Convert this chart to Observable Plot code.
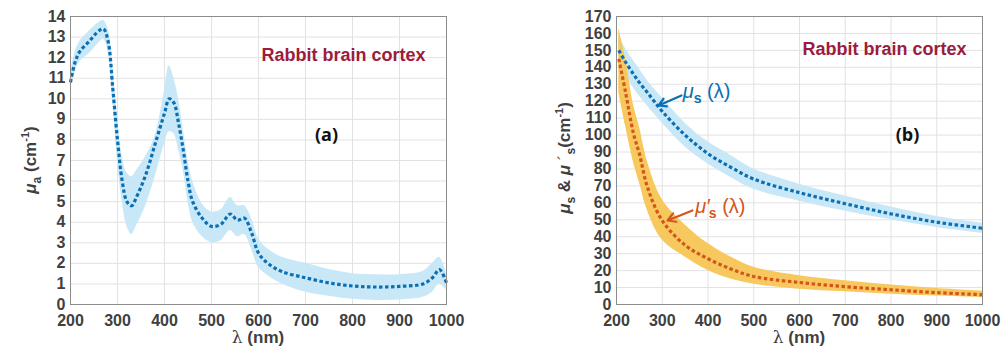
<!DOCTYPE html>
<html><head><meta charset="utf-8">
<script src="https://cdn.jsdelivr.net/npm/d3@7"></script>
<script src="https://cdn.jsdelivr.net/npm/@observablehq/plot@0.6"></script>
<style>
body{margin:0;background:#fff;}
#wrap{position:relative;width:1004px;height:356px;}
#wrap svg{position:absolute;top:0;font-family:"Liberation Sans",Arial,sans-serif;}
</style></head>
<body><div id="wrap"></div>
<script>
// Panel (a): absorption coefficient
const absWl   = [200,210,220,240,260,270,280,290,300,310,320,330,340,360,380,400,410,420,430,440,450,460,480,500,520,540,555,570,585,600,620,650,700,750,800,850,900,950,970,985,1000];
const absMean = [10.8,11.8,12.3,12.8,13.3,13.4,12.8,10.5,8.0,6.0,5.0,4.8,5.2,6.3,7.8,9.3,10.0,9.8,8.8,7.5,6.0,5.0,4.2,3.8,3.9,4.4,4.1,4.2,3.5,2.5,2.0,1.6,1.3,1.05,0.9,0.85,0.88,1.0,1.3,1.7,1.05];
const absLow  = [10.5,11.3,11.8,12.2,12.7,12.9,12.3,9.8,7.0,5.0,3.8,3.4,3.8,4.8,6.2,7.8,8.4,8.3,7.5,6.5,5.0,4.0,3.3,3.0,3.1,3.6,3.3,3.4,2.7,1.8,1.4,1.0,0.6,0.4,0.25,0.2,0.22,0.35,0.6,1.0,0.7];
const absHigh = [11.2,12.3,12.8,13.3,13.7,13.8,13.4,11.3,9.0,7.2,6.4,6.2,6.5,7.2,8.2,10.4,11.6,11.0,10.0,8.5,7.0,6.0,4.9,4.5,4.6,5.2,4.8,4.8,4.2,3.2,2.7,2.3,2.0,1.7,1.5,1.45,1.45,1.6,2.0,2.3,1.5];
// Panel (b): scattering coefficients
const scatWl   = [205,220,237,250,268,300,350,400,450,500,600,700,800,900,1000];
const musMean  = [150,143,136,131,125,114,100,89,81,74,66,59.5,53.5,48.6,45];
const musLow   = [142,135,128,123,117,107,93,83,75,68,61,55,50,45.5,42];
const musHigh  = [158,151,144,139,132,122,107,96,88,80,71,64,57.5,52,48];
const muspMean = [145,125,101,89,69,49.5,35,27,21,16.5,13,10.5,8.7,7,5.8];
const muspLow  = [125,105,84,72,55,38,28,20,15,12,9,7.5,6,5,4];
const muspHigh = [163,145,118,105,84,62,47,36,28,22,17,14,11.5,9.5,8];
const xTicks = [200,300,400,500,600,700,800,900,1000];
const yTicksA = d3.range(0,15,1);
const yTicksB = d3.range(0,171,10);
// annotation anchors (data units) for the curve labels in panel (b)
const labelMus  = {x:346,y:121.6,ax1:342,ay1:123.4,ax2:292,ay2:117.5};
const labelMusP = {x:373,y:53.7,ax1:366,ay1:55.5,ax2:311.5,ay2:49.6};

const absData = absWl.map((w,i)=>({w,m:absMean[i],lo:absLow[i],hi:absHigh[i]}));
const scatData = scatWl.map((w,i)=>({w,m:musMean[i],lo:musLow[i],hi:musHigh[i],pm:muspMean[i],plo:muspLow[i],phi:muspHigh[i]}));

const tickFont = {fontSize:16, fontWeight:"bold", fill:"#404040"};
const BLUE="#0b6fb4", BAND="#c8e8f8", ORANGE="#d4561c", GOLD="#f7c85e", TITLE="#9c1c3d";
const dash = {strokeWidth:3.2,strokeDasharray:"3.5,2.5",strokeLinecap:"butt",strokeLinejoin:"miter",curve:"catmull-rom"};

function grids(yTicks){
  return [
    Plot.gridX(xTicks,{stroke:"#e2e2e2",strokeOpacity:1}),
    Plot.gridY(yTicks,{stroke:"#e2e2e2",strokeOpacity:1}),
  ];
}
function axes(yTicks){
  return [
    Plot.frame({stroke:"#8c8c8c"}),
    Plot.axisX(xTicks,{anchor:"bottom",tickSize:0,tickPadding:10,label:null,tickFormat:d=>String(d),...tickFont}),
    Plot.axisY(yTicks,{anchor:"left",tickSize:0,tickPadding:5,label:null,tickFormat:d=>String(d),...tickFont}),
  ];
}

const pa = Plot.plot({
  width:480,height:356,marginLeft:70,marginRight:34,marginTop:16,marginBottom:52,
  x:{domain:[200,1000],axis:null},y:{domain:[0,14],axis:null},
  marks:[
    ...grids(yTicksA),
    Plot.areaY(absData,{x:"w",y1:"lo",y2:"hi",fill:BAND,curve:"catmull-rom"}),
    Plot.line(absData,{x:"w",y:"m",stroke:BLUE,...dash}),
    ...axes(yTicksA),
    Plot.text(["Rabbit brain cortex"],{frameAnchor:"top-right",textAnchor:"end",dx:-21,dy:32,fill:TITLE,fontSize:18,fontWeight:"bold"}),
    Plot.text(["(a)"],{frameAnchor:"top",dx:68,dy:112,fill:"#111",fontSize:18,fontWeight:"bold",fontFamily:"Open Sans"})
  ]
});
pa.style.left="0px";

const pb = Plot.plot({
  width:504,height:356,marginLeft:116,marginRight:22,marginTop:16,marginBottom:52,
  x:{domain:[200,1000],axis:null},y:{domain:[0,170],axis:null},
  marks:[
    ...grids(yTicksB),
    Plot.areaY(scatData,{x:"w",y1:"lo",y2:"hi",fill:BAND,curve:"catmull-rom"}),
    Plot.areaY(scatData,{x:"w",y1:"plo",y2:"phi",fill:GOLD,curve:"catmull-rom"}),
    Plot.line(scatData,{x:"w",y:"m",stroke:BLUE,...dash}),
    Plot.line(scatData,{x:"w",y:"pm",stroke:ORANGE,...dash}),
    Plot.arrow([labelMus],{x1:"ax1",y1:"ay1",x2:"ax2",y2:"ay2",stroke:BLUE,strokeWidth:2.2,headLength:9}),
    Plot.arrow([labelMusP],{x1:"ax1",y1:"ay1",x2:"ax2",y2:"ay2",stroke:ORANGE,strokeWidth:2.2,headLength:9}),
    ...axes(yTicksB),
    Plot.text(["Rabbit brain cortex"],{frameAnchor:"top-right",textAnchor:"end",dx:-16,dy:26,fill:TITLE,fontSize:18,fontWeight:"bold"}),
    Plot.text(["(b)"],{frameAnchor:"top",dx:108,dy:112,fill:"#111",fontSize:18,fontWeight:"bold",fontFamily:"Open Sans"})
  ]
});
pb.style.left="500px";

const wrap=document.getElementById("wrap");
wrap.append(pa,pb);

function addLabels(svg, yParts, yx, yc, plotCx){
  const s=d3.select(svg);
  s.append("text").attr("x",plotCx).attr("y",343).attr("text-anchor","middle")
    .attr("font-size",17).attr("font-weight","bold").attr("fill","#404040")
    .html('<tspan font-weight="normal" font-family="DejaVu Serif">λ</tspan> (nm)');
  s.append("text").attr("transform",`translate(${yx},${yc}) rotate(-90)`).attr("text-anchor","middle")
    .attr("font-size",17).attr("font-weight","bold").attr("fill","#404040").html(yParts);
}
addLabels(pa,'<tspan font-style="italic">μ</tspan><tspan font-size="12" dy="5">a</tspan><tspan dy="-5"> (cm</tspan><tspan font-size="11" dy="-7">-1</tspan><tspan dy="7">)</tspan>',36,160,258);
addLabels(pb,'<tspan font-style="italic">μ</tspan><tspan font-size="12" dy="5">s</tspan><tspan dy="-5"> &amp; </tspan><tspan font-style="italic">μ</tspan><tspan font-weight="normal"> ´</tspan><tspan font-size="12" dy="5">s</tspan><tspan dy="-5">(cm</tspan><tspan font-size="11" dy="-7">-1</tspan><tspan dy="7">)</tspan>',70,158,299);

// curve labels in panel (b)
const xs=pb.scale("x"), ys=pb.scale("y");
const sb=d3.select(pb);
sb.append("text").attr("x",xs.apply(labelMus.x)).attr("y",ys.apply(labelMus.y)).attr("text-anchor","start")
  .attr("font-size",20).attr("fill",BLUE)
  .html('<tspan font-style="italic">μ</tspan><tspan font-size="14" dy="5" font-weight="bold">s</tspan><tspan dy="-5"> (λ)</tspan>');
sb.append("text").attr("x",xs.apply(labelMusP.x)).attr("y",ys.apply(labelMusP.y)).attr("text-anchor","start")
  .attr("font-size",20).attr("fill",ORANGE)
  .html('<tspan font-style="italic">μ′</tspan><tspan font-size="14" dx="-1" dy="5" font-weight="bold">s</tspan><tspan dy="-5"> (λ)</tspan>');
</script>
</body></html>
